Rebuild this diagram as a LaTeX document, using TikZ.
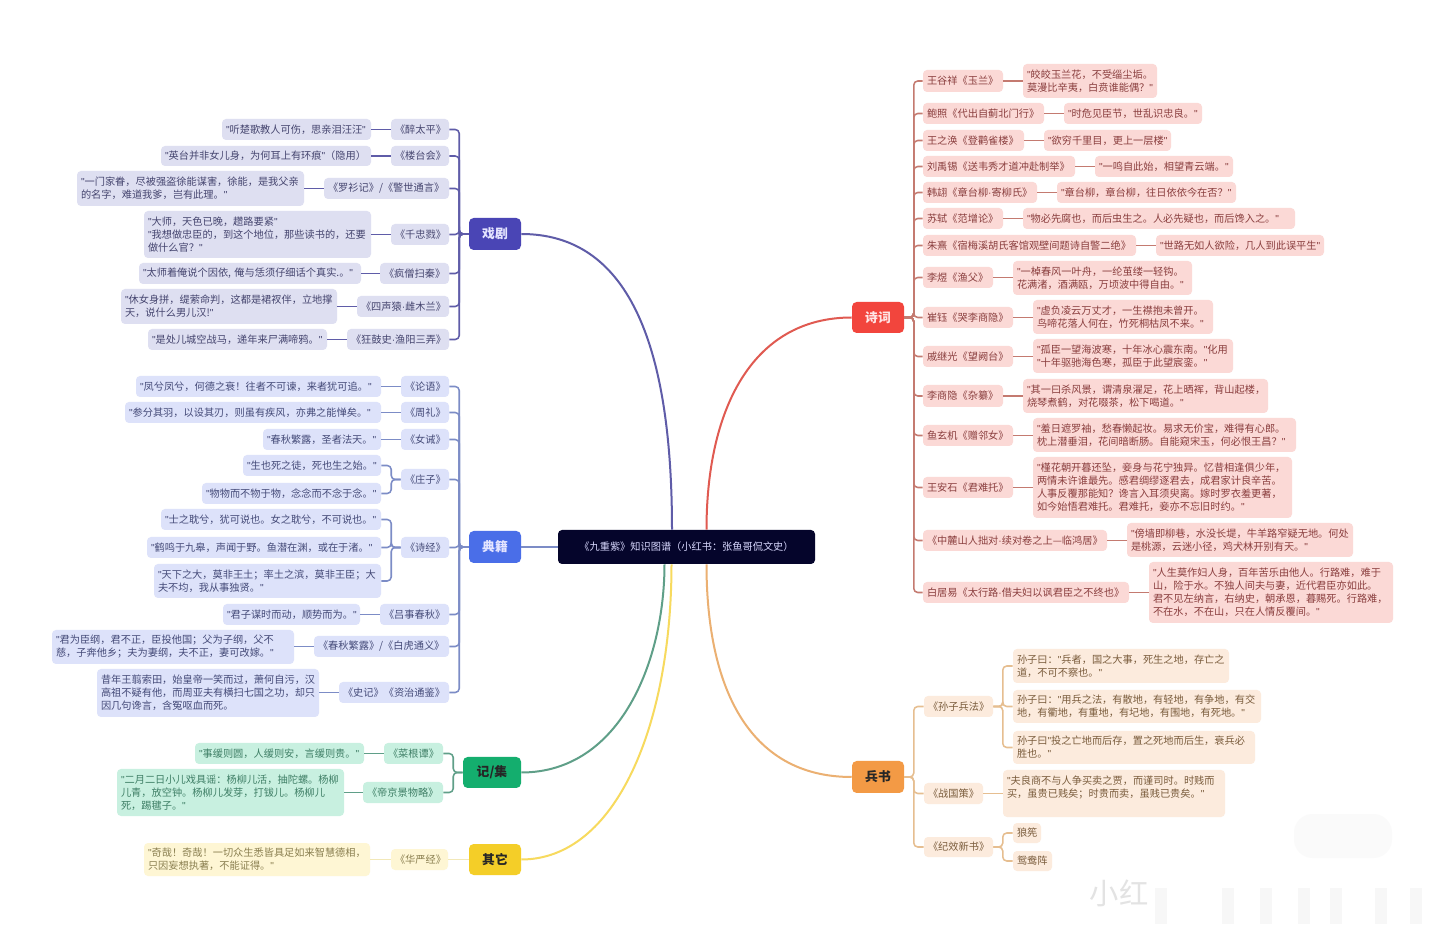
\documentclass[tikz,border=0pt]{standalone}
\usepackage{fontspec}
\setmainfont{Noto Sans CJK SC}
\newfontfamily\latf{Liberation Sans}
\newcommand{\md}{{\latf\char"00B7}}
\usetikzlibrary{calc}
\definecolor{cjxb}{HTML}{4A45B5}\definecolor{cjxf}{HTML}{DEDFF1}\definecolor{cjxt}{HTML}{45456F}\definecolor{cjxl}{HTML}{5F5CA8}
\definecolor{cdjb}{HTML}{4A6EE8}\definecolor{cdjf}{HTML}{DDE2FA}\definecolor{cdjt}{HTML}{444A78}\definecolor{cdjl}{HTML}{7C8CC6}
\definecolor{cjib}{HTML}{14AE6E}\definecolor{cjif}{HTML}{C8F0E0}\definecolor{cjit}{HTML}{3F7F66}\definecolor{cjil}{HTML}{5F9F88}
\definecolor{cqtb}{HTML}{F4CE28}\definecolor{cqtf}{HTML}{FEF6D4}\definecolor{cqtt}{HTML}{8A7F50}\definecolor{cqtl}{HTML}{F2E8B8}
\definecolor{cbsb}{HTML}{F39A45}\definecolor{cbsf}{HTML}{FCEBDD}\definecolor{cbst}{HTML}{7A5C3C}\definecolor{cbsl}{HTML}{E6BE90}
\definecolor{cscb}{HTML}{F2453D}\definecolor{cscf}{HTML}{FBD9D6}\definecolor{csct}{HTML}{8A3E3E}\definecolor{cscl}{HTML}{C47A70}
\definecolor{cctr}{HTML}{05052B}
\tikzset{
 box/.style={rounded corners=3pt,inner sep=0pt,align=left,font=\fontsize{7.65}{9.75}\selectfont},
 rootbox/.style={rounded corners=3.5pt,inner sep=0pt,align=center,font=\fontsize{9.6}{12}\selectfont\bfseries},
 xj/.style={box,fill=cjxf,text=cjxt}, dj/.style={box,fill=cdjf,text=cdjt},
 ji/.style={box,fill=cjif,text=cjit}, qt/.style={box,fill=cqtf,text=cqtt},
 bs/.style={box,fill=cbsf,text=cbst}, sc/.style={box,fill=cscf,text=csct},
 lnxj/.style={draw=cjxl,line width=1.15pt,rounded corners=3pt},
 lndj/.style={draw=cdjl,line width=1.15pt,rounded corners=3pt},
 lnji/.style={draw=cjil,line width=1.15pt,rounded corners=3pt},
 lnqt/.style={draw=cqtl,line width=1.15pt,rounded corners=3pt},
 lnbs/.style={draw=cbsl,line width=1.15pt,rounded corners=3pt},
 lnsc/.style={draw=cscl,line width=1.15pt,rounded corners=3pt},
}
% style, name, x1,y1,x2,y2, text
\newcommand{\bx}[7]{%
 \pgfmathsetmacro{\mybw}{(#5-#3)*0.75}\pgfmathsetmacro{\mybh}{(#6-#4)*0.75}\pgfmathsetmacro{\mytw}{(#5-#3-8)*0.75}%
 \node[#1,minimum width=\mybw pt,minimum height=\mybh pt,text width=\mytw pt] (#2) at ({(#3+#5)/2},{(#4+#6)/2}) {#7};}
\newcommand{\myroot}[8]{%
 \pgfmathsetmacro{\mybw}{(#5-#3)*0.75}\pgfmathsetmacro{\mybh}{(#6-#4)*0.75}%
 \node[rootbox,fill=#1,text=#8,minimum width=\mybw pt,minimum height=\mybh pt] (#2) at ({(#3+#5)/2},{(#4+#6)/2}) {#7};}
% brackets: style,parent,child
\newcommand{\mybl}[3]{\draw[#1] (#2.west) -- ++(-9.5,0) |- (#3.east);}
\newcommand{\mybr}[3]{\draw[#1] (#2.east) -- ++(9.5,0) |- (#3.west);}
% straight links
\newcommand{\mysl}[3]{\draw[#1] (#2.west) -- (#2.west -| #3.east);}
\newcommand{\mysr}[3]{\draw[#1] (#2.east) -- (#2.east -| #3.west);}
\begin{document}
\catcode`\"=\active
\def"{{\latf\char34 }}
\begin{tikzpicture}[x=0.75pt,y=-0.75pt]
\useasboundingbox (0,0) rectangle (1440,944);
\fill[white] (0,0) rectangle (1440,944);
% watermark
\fill[black!2,rounded corners=14pt] (1294,814) rectangle (1392,858);
\foreach \wx in {1155,1222,1260,1298,1330,1375,1410}{\fill[black!3] (\wx,888) rectangle ++(12,36);}
\node[inner sep=0pt,text=black!11,font=\fontsize{22}{24}\selectfont] (wm) at (1119,893) {小红};
% centre and roots
\node[fill=cctr,text=white!85!blue,rounded corners=3pt,inner sep=0pt,minimum width=192.75pt,minimum height=25.5pt,font=\fontsize{7.65}{9.75}\selectfont] (ctr) at (686.5,547) {《九重紫》知识图谱（小红书：张鱼哥侃文史）};
\myroot{cjxb}{rxj}{469}{218}{521}{250}{戏剧}{white!90!blue}
\myroot{cdjb}{rdj}{469}{531}{521}{563}{典籍}{white!90!blue}
\myroot{cjib}{rji}{463}{757}{521}{788}{记/集}{black!85}
\myroot{cqtb}{rqt}{469}{844}{521}{875}{其它}{black!85}
\myroot{cscb}{rsc}{852}{302}{904}{333}{诗词}{white!90!red}
\myroot{cbsb}{rbs}{852}{761}{904}{793}{兵书}{black!85}
% main branches
\draw[cjxl,line width=1.5pt] (rxj.east) .. controls ($(rxj.east)+(105,0)$) and ($(ctr.north)+(-14.5,-190)$) .. ($(ctr.north)+(-14.5,0)$);
\draw[cdjl,line width=1.5pt] (rdj.east) -- (rdj.east -| ctr.west);
\draw[cjil,line width=1.5pt] (rji.east) .. controls ($(rji.east)+(100,0)$) and ($(ctr.south)+(-22,95)$) .. ($(ctr.south)+(-22,0)$);
\draw[cqtb!75,line width=1.5pt] (rqt.east) .. controls ($(rqt.east)+(95,0)$) and ($(ctr.south)+(-15,160)$) .. ($(ctr.south)+(-15,0)$);
\draw[cscl!40!cscb,line width=1.5pt] (rsc.west) .. controls ($(rsc.west)+(-100,0)$) and ($(ctr.north)+(20,-120)$) .. ($(ctr.north)+(20,0)$);
\draw[cbsl!60!cbsb,line width=1.5pt] (rbs.west) .. controls ($(rbs.west)+(-105,0)$) and ($(ctr.south)+(20,120)$) .. ($(ctr.south)+(20,0)$);
% 戏剧
\bx{xj}{a1t}{391}{119}{449}{140}{《醉太平》}
\bx{xj}{a1q}{222}{119}{371}{140}{"听楚歌教人可伤，思亲泪汪汪"}
\bx{xj}{a2t}{391}{146}{449}{166}{《楼台会》}
\bx{xj}{a2q}{161}{146}{371}{166}{"英台并非女儿身，为何耳上有环痕"（隐用）}
\bx{xj}{a3t}{324}{178}{449}{199}{《罗衫记》/《警世通言》}
\bx{xj}{a3q}{77}{171}{304}{206}{"一门家眷，尽被强盗徐能谋害，徐能，是我父亲\\的名字，难道我爹，岂有此理。"}
\bx{xj}{a4t}{391}{224}{449}{245}{《千忠戮》}
\bx{xj}{a4q}{144}{211}{371}{258}{"大师，天色已晚，趱路要紧"\\"我想做忠臣的，到这个地位，那些读书的，还要\\做什么官？"}
\bx{xj}{a5t}{380}{263}{449}{284}{《疯僧扫秦》}
\bx{xj}{a5q}{139}{263}{361}{284}{"太师着俺说个因依,~俺与恁须仔细话个真实.。"}
\bx{xj}{a6t}{357}{296}{449}{317}{《四声猿\md 雌木兰》}
\bx{xj}{a6q}{121}{289}{337}{324}{"休女身拼，缇萦命判，这都是裙衩伴，立地撑\\天，说什么男儿汉!"}
\bx{xj}{a7t}{347}{329}{449}{350}{《狂鼓史\md 渔阳三弄》}
\bx{xj}{a7q}{148}{329}{327}{350}{"是处儿城空战马，递年来尸满啼鸦。"}
\foreach \k in {1,...,7}{\mybl{lnxj}{rxj}{a\k t}\mysl{lnxj}{a\k t}{a\k q}}
% 典籍
\bx{dj}{b1t}{401}{376}{449}{397}{《论语》}
\bx{dj}{b1q}{136}{376}{381}{397}{"凤兮凤兮，何德之衰！往者不可谏，来者犹可追。"}
\bx{dj}{b2t}{401}{402}{449}{423}{《周礼》}
\bx{dj}{b2q}{125}{402}{381}{423}{"参分其羽，以设其刃，则虽有疾风，亦弗之能惮矣。"}
\bx{dj}{b3t}{401}{429}{449}{450}{《女诫》}
\bx{dj}{b3q}{263}{429}{381}{450}{"春秋繁露，圣者法天。"}
\bx{dj}{b4t}{401}{469}{449}{490}{《庄子》}
\bx{dj}{b4q}{243}{455}{381}{476}{"生也死之徒，死也生之始。"}
\bx{dj}{b4r}{202}{483}{381}{504}{"物物而不物于物，念念而不念于念。"}
\bx{dj}{b5t}{401}{537}{449}{558}{《诗经》}
\bx{dj}{b5q}{161}{509}{381}{530}{"士之耽兮，犹可说也。女之耽兮，不可说也。"}
\bx{dj}{b5r}{147}{537}{381}{558}{"鹤鸣于九皋，声闻于野。鱼潜在渊，或在于渚。"}
\bx{dj}{b5s}{154}{564}{381}{598}{"天下之大，莫非王土；率土之滨，莫非王臣；大\\夫不均，我从事独贤。"}
\bx{dj}{b6t}{380}{604}{449}{625}{《吕事春秋》}
\bx{dj}{b6q}{223}{604}{360}{625}{"君子谋时而动，顺势而为。"}
\bx{dj}{b7t}{314}{636}{449}{657}{《春秋繁露》/《白虎通义》}
\bx{dj}{b7q}{52}{630}{294}{664}{"君为臣纲，君不正，臣投他国；父为子纲，父不\\慈，子奔他乡；夫为妻纲，夫不正，妻可改嫁。"}
\bx{dj}{b8t}{339}{682}{449}{703}{《史记》《资治通鉴》}
\bx{dj}{b8q}{97}{669}{319}{717}{昔年王翦索田，始皇帝一笑而过，萧何自污，汉\\高祖不疑有他，而周亚夫有横扫七国之功，却只\\因几句谗言，含冤呕血而死。}
\foreach \k in {1,...,8}{\mybl{lndj}{rdj}{b\k t}}
\foreach \k in {1,2,3,6,7,8}{\mysl{lndj}{b\k t}{b\k q}}
\mybl{lndj}{b4t}{b4q}\mybl{lndj}{b4t}{b4r}
\mybl{lndj}{b5t}{b5q}\mybl{lndj}{b5t}{b5r}\mybl{lndj}{b5t}{b5s}
% 记/集
\bx{ji}{c1t}{384}{743}{443}{764}{《菜根谭》}
\bx{ji}{c1q}{195}{743}{364}{764}{"事缓则圆，人缓则安，言缓则贵。"}
\bx{ji}{c2t}{363}{782}{443}{803}{《帝京景物略》}
\bx{ji}{c2q}{117}{769}{344}{816}{"二月二日小儿戏具谣：杨柳儿活，抽陀螺。杨柳\\儿青，放空钟。杨柳儿发芽，打钹儿。杨柳儿\\死，踢毽子。"}
\foreach \k in {1,2}{\mybl{lnji}{rji}{c\k t}\mysl{lnji}{c\k t}{c\k q}}
% 其它
\bx{qt}{d1t}{391}{849}{448}{870}{《华严经》}
\bx{qt}{d1q}{144}{843}{370}{876}{"奇哉！奇哉！一切众生悉皆具足如来智慧德相，\\只因妄想执著，不能证得。"}
\mysl{lnqt}{rqt}{d1t}\mysl{lnqt}{d1t}{d1q}
% 诗词
\bx{sc}{e1t}{923}{70}{1003}{92}{王谷祥《玉兰》}
\bx{sc}{e1q}{1023}{64}{1157}{98}{"皎皎玉兰花，不受缁尘垢。\\莫漫比辛夷，白贲谁能偶？"}
\bx{sc}{e2t}{923}{103}{1044}{124}{鲍照《代出自蓟北门行》}
\bx{sc}{e2q}{1064}{103}{1202}{124}{"时危见臣节，世乱识忠良。"}
\bx{sc}{e3t}{923}{130}{1024}{151}{王之涣《登鹳雀楼》}
\bx{sc}{e3q}{1044}{130}{1171}{151}{"欲穷千里目，更上一层楼"}
\bx{sc}{e4t}{923}{156}{1075}{177}{刘禹锡《送韦秀才道冲赴制举》}
\bx{sc}{e4q}{1095}{156}{1233}{177}{"一鸣自此始，相望青云端。"}
\bx{sc}{e5t}{923}{182}{1037}{203}{韩翃《章台柳\md 寄柳氏》}
\bx{sc}{e5q}{1057}{182}{1236}{203}{"章台柳，章台柳，往日依依今在否？"}
\bx{sc}{e6t}{923}{208}{1003}{229}{苏轼《范增论》}
\bx{sc}{e6q}{1023}{208}{1295}{229}{"物必先腐也，而后虫生之。人必先疑也，而后馋入之。"}
\bx{sc}{e7t}{923}{235}{1136}{256}{朱熹《宿梅溪胡氏客馆观壁间题诗自警二绝》}
\bx{sc}{e7q}{1156}{235}{1324}{256}{"世路无如人欲险，几人到此误平生"}
\bx{sc}{e8t}{923}{267}{993}{288}{李煜《渔父》}
\bx{sc}{e8q}{1013}{261}{1192}{295}{"一棹春风一叶舟，一纶茧缕一轻钩。\\花满渚，酒满瓯，万顷波中得自由。"}
\bx{sc}{e9t}{923}{307}{1013}{328}{崔钰《哭李商隐》}
\bx{sc}{e9q}{1033}{300}{1213}{334}{"虚负凌云万丈才，一生襟抱未曾开。\\鸟啼花落人何在，竹死桐枯凤不来。"}
\bx{sc}{e10t}{923}{346}{1013}{367}{戚继光《望阙台》}
\bx{sc}{e10q}{1033}{339}{1233}{373}{"孤臣一望海波寒，十年冰心震东南。"化用\\"十年驱驰海色寒，孤臣于此望宸銮。"}
\bx{sc}{e11t}{923}{385}{1003}{407}{李商隐《杂纂》}
\bx{sc}{e11q}{1023}{379}{1268}{413}{"其一曰杀风景，谓清泉濯足，花上晒裈，背山起楼，\\烧琴煮鹤，对花啜茶，松下喝道。"}
\bx{sc}{e12t}{923}{425}{1013}{446}{鱼玄机《赠邻女》}
\bx{sc}{e12q}{1033}{418}{1296}{452}{"羞日遮罗袖，愁春懒起妆。易求无价宝，难得有心郎。\\枕上潜垂泪，花间暗断肠。自能窥宋玉，何必恨王昌？"}
\bx{sc}{e13t}{923}{477}{1013}{498}{王安石《君难托》}
\bx{sc}{e13q}{1033}{457}{1292}{518}{"槿花朝开暮还坠，妾身与花宁独异。忆昔相逢俱少年，\\两情未许谁最先。感君绸缪逐君去，成君家计良辛苦。\\人事反覆那能知？谗言入耳须臾离。嫁时罗衣羞更著，\\如今始悟君难托。君难托，妾亦不忘旧时约。"}
\bx{sc}{e14t}{923}{530}{1107}{551}{\mbox{《中麓山人拙对\md 续对卷之上—临鸿居》}}
\bx{sc}{e14q}{1127}{523}{1353}{557}{"傍墙即柳巷，水没长堤，牛羊路窄疑无地。何处\\是桃源，云迷小径，鸡犬林开别有天。"}
\bx{sc}{e15t}{923}{582}{1129}{603}{白居易《太行路\md 借夫妇以讽君臣之不终也》}
\bx{sc}{e15q}{1149}{562}{1393}{623}{"人生莫作妇人身，百年苦乐由他人。行路难，难于\\山，险于水。不独人间夫与妻，近代君臣亦如此。\\君不见左纳言，右纳史，朝承恩，暮赐死。行路难，\\不在水，不在山，只在人情反覆间。"}
\foreach \k in {1,...,15}{\mybr{lnsc}{rsc}{e\k t}\mysr{lnsc}{e\k t}{e\k q}}
% 兵书
\bx{bs}{f1t}{924}{696}{993}{717}{《孙子兵法》}
\bx{bs}{f1q}{1013}{649}{1229}{683}{孙子曰："兵者，国之大事，死生之地，存亡之\\道，不可不察也。"}
\bx{bs}{f1r}{1013}{690}{1261}{723}{孙子曰："用兵之法，有散地，有轻地，有争地，有交\\地，有衢地，有重地，有圮地，有围地，有死地。"}
\bx{bs}{f1s}{1013}{731}{1255}{764}{孙子曰"投之亡地而后存，置之死地而后生，衰兵必\\胜也。"}
\bx{bs}{f2t}{924}{783}{983}{804}{《战国策》}
\bx{bs}{f2q}{1003}{770}{1225}{817}{"夫良商不与人争买卖之贾，而谨司时。时贱而\\买，虽贵已贱矣；时贵而卖，虽贱已贵矣。"\\\mbox{}}
\bx{bs}{f3t}{924}{837}{993}{857}{《纪效新书》}
\bx{bs}{f3q}{1013}{823}{1041}{843}{狼筅}
\bx{bs}{f3r}{1013}{851}{1052}{871}{鸳鸯阵}
\foreach \k in {1,2,3}{\mybr{lnbs}{rbs}{f\k t}}
\mybr{lnbs}{f1t}{f1q}\mybr{lnbs}{f1t}{f1r}\mybr{lnbs}{f1t}{f1s}
\mysr{lnbs}{f2t}{f2q}
\mybr{lnbs}{f3t}{f3q}\mybr{lnbs}{f3t}{f3r}
\end{tikzpicture}
\end{document}
